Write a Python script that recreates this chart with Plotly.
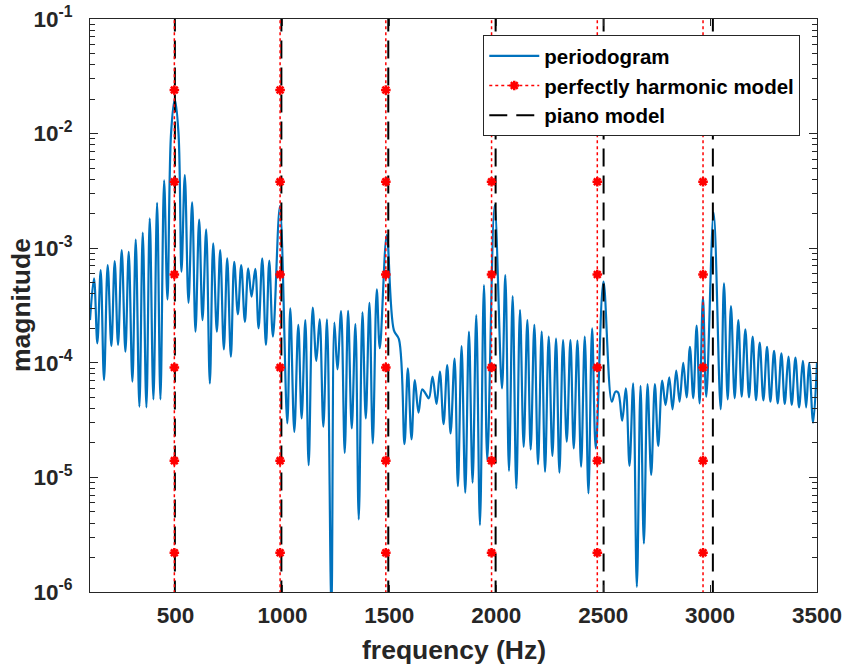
import plotly.graph_objects as go

# ---------------- data ----------------
periodogram_freq = [
    100, 118.7, 134.3, 149.9, 165.5, 182.7, 199.9, 215.5, 231.1, 248.3,
    265.5, 281.1, 298.3, 313.9, 331.0, 346.7, 363.8, 379.4, 396.6, 413.8,
    429.4, 446.6, 462.2, 479, 496.5, 514, 527.8, 543.4, 560.6, 577.7,
    593.3, 610.5, 626.1, 643.3, 660.5, 676.1, 693.3, 708.9, 726.0, 741.7,
    758.8, 774.5, 791.6, 807.2, 824.4, 840.0, 855.6, 872.8, 888.4, 905.6,
    922.8, 938.4, 955.6, 988, 1022.7, 1036.7, 1055.5, 1074.2, 1089.8, 1107.0,
    1122.6, 1141.4, 1158.5, 1174.1, 1191.3, 1208.5, 1228.9, 1243.0, 1257.0, 1274.2,
    1291.3, 1307.0, 1324.1, 1341.3, 1356.9, 1374.1, 1389.7, 1406.9, 1422.5, 1441.2,
    1455.3, 1488, 1521, 1545, 1570.8, 1586.4, 1603.6, 1619.2, 1636.4, 1653.6,
    1669.2, 1684.8, 1702.0, 1720.7, 1736.3, 1753.5, 1770.7, 1786.3, 1805.0, 1820.6,
    1837.8, 1855.0, 1872.2, 1889.3, 1906.5, 1923.7, 1942.4, 1958.0, 1992.4, 2026.7,
    2042.3, 2059.5, 2076.7, 2093.8, 2111.0, 2128.2, 2145.4, 2161.0, 2178.1, 2195.3,
    2212.5, 2228.1, 2245.3, 2262.5, 2279.6, 2295.3, 2312.4, 2329.6, 2346.8, 2362.4,
    2379.6, 2396.7, 2413.9, 2431.1, 2448.3, 2465.4, 2501.3, 2540.4, 2557.5, 2570.0,
    2588.8, 2606.0, 2623.1, 2640.3, 2657.5, 2674.7, 2690.3, 2707.4, 2724.6, 2741.8,
    2757.4, 2776.1, 2791.7, 2808.9, 2824.5, 2841.7, 2857.3, 2874.5, 2890.1, 2905.7,
    2921.3, 2937.0, 2951.0, 2966.6, 2982.2, 3016.6, 3049.4, 3065.0, 3082.2, 3097.8,
    3115.0, 3132.1, 3147.7, 3164.9, 3182.1, 3199.2, 3214.9, 3232.0, 3249.2, 3266.4,
    3282.0, 3299.2, 3316.3, 3333.5, 3349.1, 3366.3, 3381.9, 3399.1, 3416.3, 3433.5,
    3449.1, 3463.1, 3481.8, 3500,
]
periodogram_mag = [
    2.36e-4, 5.46e-4, 1.48e-4, 6.45e-4, 7.07e-5, 7.13e-4, 1.40e-4, 7.73e-4, 1.43e-4, 9.64e-4,
    1.25e-4, 9.31e-4, 6.84e-5, 1.19e-3, 4.14e-5, 1.37e-3, 4.08e-5, 1.82e-3, 4.80e-5, 2.49e-3,
    4.80e-5, 3.9e-3, 3.57e-4, 1.0e-2, 2.0e-2, 1.0e-2, 6.24e-4, 4.35e-3, 3.34e-4, 2.51e-3,
    1.87e-4, 1.78e-3, 2.36e-4, 1.46e-3, 6.61e-5, 1.10e-3, 1.87e-4, 9.64e-4, 1.31e-4, 8.15e-4,
    1.13e-4, 7.62e-4, 2.65e-4, 7.13e-4, 2.28e-4, 6.67e-4, 3.77e-4, 6.6e-4, 2.0e-4, 8.15e-4,
    1.43e-4, 7.78e-4, 1.69e-4, 2.33e-3, 2.96e-5, 2.99e-4, 2.5e-5, 2.14e-4, 3.27e-5, 2.36e-4,
    1.28e-5, 3.03e-4, 1.04e-4, 2.39e-4, 2.77e-5, 2.4e-4, 7e-7, 2.24e-4, 8.77e-5, 2.83e-4,
    1.64e-5, 2.84e-4, 2.68e-5, 2.18e-4, 4.3e-6, 2.75e-4, 3.27e-5, 3.34e-4, 1.98e-5, 4.37e-4,
    1.34e-4, 1.30e-3, 1.93e-4, 1.6e-4, 1.95e-5, 8.93e-5, 2.15e-5, 7.07e-5, 3.67e-5, 5.86e-5,
    5.4e-5, 4.9e-5, 7.56e-5, 4.37e-5, 8.36e-5, 2.92e-5, 9.56e-5, 2.42e-5, 1.09e-4, 8.4e-6,
    1.40e-4, 7.35e-6, 1.87e-4, 9.0e-6, 2.61e-4, 3.84e-6, 4.77e-4, 1.42e-5, 2.38e-3, 5.98e-5,
    5.83e-4, 1.14e-5, 3.82e-4, 8.0e-6, 2.89e-4, 1.85e-5, 2.36e-4, 1.75e-5, 2.14e-4, 1.30e-5,
    1.87e-4, 1.12e-5, 1.69e-4, 1.54e-5, 1.63e-4, 1.10e-5, 1.58e-4, 2.05e-5, 1.58e-4, 1.79e-5,
    1.56e-4, 1.24e-5, 1.69e-4, 7.26e-6, 2.0e-4, 1.79e-5, 5.1e-4, 4.57e-5, 5.6e-5, 5.5e-5,
    3.12e-5, 5.98e-5, 1.26e-5, 6.61e-5, 1.11e-6, 6.3e-5, 2.65e-6, 6.53e-5, 1.05e-5, 6.53e-5,
    1.88e-5, 6.98e-5, 4.28e-5, 7.46e-5, 3.93e-5, 8.53e-5, 4.57e-5, 1.0e-4, 4.99e-5, 1.38e-4,
    4.9e-5, 2.11e-4, 4.43e-5, 3.72e-4, 5.06e-5, 2.04e-3, 3.93e-5, 4.93e-4, 4.8e-5, 3.13e-4,
    4.9e-5, 2.36e-4, 5.06e-5, 1.96e-4, 4.99e-5, 1.69e-4, 4.73e-5, 1.50e-4, 4.7e-5, 1.38e-4,
    4.57e-5, 1.27e-4, 4.43e-5, 1.21e-4, 4.37e-5, 1.13e-4, 4.3e-5, 1.11e-4, 4.08e-5, 1.04e-4,
    4.08e-5, 1.0e-4, 3.0e-5, 1.0e-4,
]

harmonic_freq = [494.5, 989, 1483.5, 1978, 2472.5, 2967]
harmonic_marker_levels = [3.3e-7, 2.2e-6, 1.4e-5, 9.1e-5, 5.9e-4, 3.8e-3, 2.4e-2, 1.55e-1]

piano_freq = [497, 995, 1495, 1997, 2502, 3013]
piano_line_levels = [1e-7, 1.0]

x_ticks = [500, 1000, 1500, 2000, 2500, 3000, 3500]
y_tick_exponents = [-6, -5, -4, -3, -2, -1]

# ---------------- figure ----------------
FONT = "Liberation Sans, Arial, sans-serif"
BLUE = "#0072BD"
AX = "#262626"

fig = go.Figure()

fig.add_trace(go.Scatter(
    x=periodogram_freq, y=periodogram_mag, mode="lines",
    line=dict(color=BLUE, width=2.2, shape="spline", smoothing=1.0),
    name="periodogram", legendrank=1,
))

for i, f in enumerate(piano_freq):
    fig.add_trace(go.Scatter(
        x=[f] * len(piano_line_levels), y=piano_line_levels, mode="lines",
        line=dict(color="black", width=2, dash="18px,9px"),
        name="piano model", legendgroup="piano", showlegend=(i == 0),
        legendrank=3,
    ))

for i, f in enumerate(harmonic_freq):
    fig.add_trace(go.Scatter(
        x=[f] * len(harmonic_marker_levels), y=harmonic_marker_levels,
        mode="lines+markers",
        line=dict(color="red", width=1.5, dash="dot"),
        marker=dict(symbol="asterisk-open", size=8, color="red",
                    line=dict(color="red", width=2.5)),
        name="perfectly harmonic model", legendgroup="harm",
        showlegend=(i == 0), legendrank=2,
    ))

minor_vals = [k * 10.0 ** e for e in range(-6, -1) for k in range(2, 10)]

fig.update_xaxes(
    range=[100, 3500], tickvals=x_ticks, ticktext=[f"<b>{v}</b>" for v in x_ticks],
    ticks="inside", ticklen=7, tickwidth=1, tickcolor=AX,
    showline=True, linecolor=AX, linewidth=1, mirror="ticks",
    showgrid=False, zeroline=False,
    tickfont=dict(family=FONT, size=22.5, color=AX),
    ticklabelstandoff=3,
)
fig.update_yaxes(
    type="log", range=[-6, -1],
    tickvals=[10.0 ** e for e in y_tick_exponents],
    ticktext=[f"<b>10<sup>{e}</sup></b>" for e in y_tick_exponents],
    ticks="inside", ticklen=8, tickwidth=1, tickcolor=AX,
    minor=dict(tickvals=minor_vals, ticks="inside", ticklen=5, tickcolor=AX,
               showgrid=False),
    showline=True, linecolor=AX, linewidth=1, mirror="ticks",
    showgrid=False, zeroline=False,
    tickfont=dict(family=FONT, size=22.5, color=AX),
    ticklabelstandoff=12,
)

# axis titles (placed as in the reference)
fig.add_annotation(
    text="<b>frequency (Hz)</b>", xref="paper", yref="paper",
    x=0.5, y=-0.101, xanchor="center", yanchor="middle", showarrow=False,
    font=dict(family=FONT, size=26.5, color=AX),
)
fig.add_annotation(
    text="<b>magnitude</b>", xref="paper", yref="paper",
    x=-0.0955, y=0.5, xanchor="center", yanchor="middle", showarrow=False,
    textangle=-90, font=dict(family=FONT, size=26.5, color=AX),
)

fig.update_layout(
    width=852, height=666,
    margin=dict(l=90, r=35, t=19, b=74, autoexpand=False),
    paper_bgcolor="white", plot_bgcolor="white",
    showlegend=True,
    legend=dict(
        x=0.977, y=0.972, xanchor="right", yanchor="top",
        bgcolor="white", bordercolor=AX, borderwidth=1,
        font=dict(family=FONT, size=20.5, color="black", weight="bold"),
        itemwidth=50, tracegroupgap=0,
    ),
)

fig.write_html(
    "out.html",
    config={"displayModeBar": False},
    post_script="document.body.style.margin='0';document.body.style.padding='0';",
)
